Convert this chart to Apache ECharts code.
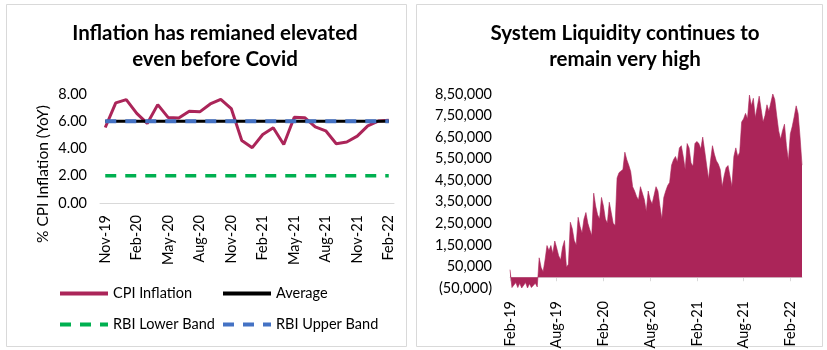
<!DOCTYPE html>
<html>
<head>
<meta charset="utf-8">
<script src="https://cdn.jsdelivr.net/npm/echarts@6/dist/echarts.min.js"></script>
<style>
  html, body { margin: 0; padding: 0; background: #fff; }
  #main { width: 827px; height: 350px; }
</style>
</head>
<body>
<div id="main"></div>
<script>
// left chart: CPI inflation, monthly
var cpiMonths = ['Nov-19', 'Dec-19', 'Jan-20', 'Feb-20', 'Mar-20', 'Apr-20', 'May-20', 'Jun-20', 'Jul-20',
  'Aug-20', 'Sep-20', 'Oct-20', 'Nov-20', 'Dec-20', 'Jan-21', 'Feb-21', 'Mar-21', 'Apr-21', 'May-21',
  'Jun-21', 'Jul-21', 'Aug-21', 'Sep-21', 'Oct-21', 'Nov-21', 'Dec-21', 'Jan-22', 'Feb-22']
var cpiInflation = [5.54, 7.35, 7.59, 6.58, 5.84, 7.22, 6.27, 6.23, 6.73, 6.69, 7.27, 7.61, 6.93, 4.59,
  4.06, 5.03, 5.52, 4.29, 6.30, 6.26, 5.59, 5.30, 4.35, 4.48, 4.91, 5.66, 6.01, 6.07]
var cpiAverage = 6
var rbiLowerBand = 2
var rbiUpperBand = 6
var cpiTicks = [0, 2, 4, 6, 8]

// right chart: system liquidity, roughly weekly readings grouped by month
var liqMonths = ['Feb-19', 'Mar-19', 'Apr-19', 'May-19', 'Jun-19', 'Jul-19', 'Aug-19', 'Sep-19', 'Oct-19',
  'Nov-19', 'Dec-19', 'Jan-20', 'Feb-20', 'Mar-20', 'Apr-20', 'May-20', 'Jun-20', 'Jul-20', 'Aug-20',
  'Sep-20', 'Oct-20', 'Nov-20', 'Dec-20', 'Jan-21', 'Feb-21', 'Mar-21', 'Apr-21', 'May-21', 'Jun-21',
  'Jul-21', 'Aug-21', 'Sep-21', 'Oct-21', 'Nov-21', 'Dec-21', 'Jan-22', 'Feb-22', 'Mar-22']
var liquidity = [
  [35000, -48000, -50000, -25000],
  [-48000, -28000, -50000, -45000],
  [-25000, -50000, -30000, -48000],
  [-50000, -28000, -45000, 90000],
  [45000, 25000, 80000, 147000],
  [124000, 147000, 110000, 168000],
  [135000, 100000, 80000, 139000],
  [170000, 46000, 60000, 255000],
  [225000, 170000, 150000, 278000],
  [235000, 205000, 270000, 300000],
  [250000, 220000, 193000, 390000],
  [330000, 290000, 270000, 370000],
  [330000, 270000, 250000, 348000],
  [300000, 250000, 240000, 460000],
  [485000, 490000, 500000, 580000],
  [545000, 520000, 490000, 420000],
  [400000, 375000, 358000, 420000],
  [420000, 360000, 305000, 400000],
  [360000, 340000, 380000, 420000],
  [400000, 330000, 270000, 370000],
  [400000, 425000, 440000, 520000],
  [545000, 560000, 535000, 600000],
  [610000, 560000, 500000, 620000],
  [600000, 530000, 515000, 620000],
  [630000, 620000, 595000, 650000],
  [587000, 520000, 455000, 540000],
  [610000, 570000, 540000, 525000],
  [500000, 420000, 470000, 508000],
  [518000, 470000, 420000, 560000],
  [600000, 560000, 580000, 720000],
  [735000, 760000, 735000, 845000],
  [795000, 830000, 740000, 790000],
  [840000, 780000, 720000, 750000],
  [800000, 770000, 810000, 850000],
  [825000, 750000, 680000, 640000],
  [680000, 710000, 610000, 540000],
  [665000, 700000, 745000, 795000],
  [760000, 650000, 520000]
]
var liqMin = -50000
var liqMax = 850000
var liqStep = 100000
var liqLabelMonths = ['Feb', 'Aug']

var font = 'Lato, "Open Sans", sans-serif'
var wine = '#ab2559'

// flatten the monthly groups into one category list
var liqCats = []
var liqValues = []
liquidity.forEach(function (weeks, m) {
  weeks.forEach(function (v, w) {
    liqCats.push(liqMonths[m] + ' ' + (w + 1))
    liqValues.push(v)
  })
})

function showLiqLabel(index, value) {
  var parts = value.split(' ')
  return parts[1] === '1' && liqLabelMonths.indexOf(parts[0].slice(0, 3)) >= 0
}

// indian digit grouping, negatives in brackets
function lakhFormat(v) {
  var s = String(Math.abs(Math.round(v)))
  var out = s
  if (s.length > 3) {
    var head = s.slice(0, s.length - 3)
    var tail = s.slice(s.length - 3)
    head = head.replace(/\B(?=(\d{2})+(?!\d))/g, ',')
    out = head + ',' + tail
  }
  return v < 0 ? '(' + out + ')' : out
}

var chart = echarts.init(document.getElementById('main'), null, { renderer: 'canvas' })

var legendBase = {
  orient: 'vertical',
  top: 281,
  itemWidth: 48,
  itemHeight: 14,
  itemGap: 16,
  selectedMode: false,
  itemStyle: { opacity: 0 },
  lineStyle: { width: 4 },
  textStyle: { fontFamily: font, fontSize: 14.5, color: '#000' }
}

var option = {
  backgroundColor: '#ffffff',
  animation: false,
  textStyle: { fontFamily: font },
  title: [{
    text: 'Inflation has remianed elevated\neven before Covid',
    left: 210,
    top: 15,
    textAlign: 'center',
    textStyle: { fontFamily: font, fontSize: 20.5, fontWeight: 'bold', color: '#000', lineHeight: 26 }
  }, {
    text: 'System Liquidity continues to\nremain very high',
    left: 620,
    top: 15,
    textAlign: 'center',
    textStyle: { fontFamily: font, fontSize: 20.5, fontWeight: 'bold', color: '#000', lineHeight: 26 }
  }],
  graphic: [{
    type: 'rect',
    shape: { x: 6.5, y: 4.5, width: 400, height: 342 },
    style: { fill: 'none', stroke: '#d9d9d9', lineWidth: 1 },
    silent: true
  }, {
    type: 'rect',
    shape: { x: 416.5, y: 4.5, width: 406, height: 342 },
    style: { fill: 'none', stroke: '#d9d9d9', lineWidth: 1 },
    silent: true
  }, {
    type: 'text',
    x: 43,
    y: 174,
    rotation: Math.PI / 2,
    style: {
      text: '% CPI Inflation (YoY)',
      fontFamily: font,
      fontSize: 15.5,
      fill: '#000',
      align: 'center',
      verticalAlign: 'middle'
    },
    silent: true
  }],
  legend: [
    Object.assign({ data: ['CPI Inflation', 'RBI Lower Band'], left: 53 }, legendBase),
    Object.assign({ data: ['Average', 'RBI Upper Band'], left: 216 }, legendBase)
  ],
  grid: [{
    left: 100, top: 94, width: 294, height: 109,
    outerBoundsMode: 'none'
  }, {
    left: 510, top: 94, width: 292, height: 194,
    outerBoundsMode: 'none'
  }],
  xAxis: [{
    type: 'category',
    gridIndex: 0,
    data: cpiMonths,
    boundaryGap: true,
    axisLine: { show: true, lineStyle: { color: '#d9d9d9', width: 1 } },
    axisTick: { show: false },
    axisLabel: {
      interval: 2, rotate: 90, margin: 12, fontSize: 14.5, color: '#000',
      fontFamily: font, hideOverlap: false
    },
    splitLine: { show: false }
  }, {
    type: 'category',
    gridIndex: 1,
    data: liqCats,
    boundaryGap: false,
    axisLine: { show: true, onZero: true, lineStyle: { color: '#d9d9d9', width: 1 } },
    axisTick: { show: true, interval: showLiqLabel, length: 4, lineStyle: { color: '#d9d9d9' } },
    axisLabel: {
      interval: showLiqLabel, rotate: 90, margin: 13, fontSize: 14.5, color: '#000',
      fontFamily: font, hideOverlap: false,
      formatter: function (v) { return v.split(' ')[0] }
    },
    splitLine: { show: false }
  }],
  yAxis: [{
    type: 'value',
    gridIndex: 0,
    min: cpiTicks[0],
    max: cpiTicks[cpiTicks.length - 1],
    interval: cpiTicks[1] - cpiTicks[0],
    axisLine: { show: false },
    axisTick: { show: false },
    splitLine: { show: false },
    axisLabel: {
      margin: 13, fontSize: 14.5, color: '#000', fontFamily: font,
      formatter: function (v) { return v.toFixed(2) }
    }
  }, {
    type: 'value',
    gridIndex: 1,
    min: liqMin,
    max: liqMax,
    interval: liqStep,
    axisLine: { show: false },
    axisTick: { show: false },
    splitLine: { show: false },
    axisLabel: {
      margin: 18, fontSize: 14.5, color: '#000', fontFamily: font,
      formatter: lakhFormat
    }
  }],
  series: [{
    name: 'CPI Inflation',
    type: 'line',
    xAxisIndex: 0,
    yAxisIndex: 0,
    data: cpiInflation,
    symbol: 'none',
    color: wine,
    lineStyle: { color: wine, width: 3 },
    z: 2
  }, {
    name: 'Average',
    type: 'line',
    xAxisIndex: 0,
    yAxisIndex: 0,
    data: cpiMonths.map(function () { return cpiAverage }),
    symbol: 'none',
    color: '#000',
    lineStyle: { color: '#000', width: 3 },
    z: 3
  }, {
    name: 'RBI Lower Band',
    type: 'line',
    xAxisIndex: 0,
    yAxisIndex: 0,
    data: cpiMonths.map(function () { return rbiLowerBand }),
    symbol: 'none',
    color: '#00b050',
    lineStyle: { color: '#00b050', width: 3.5, type: [11, 9] },
    z: 3
  }, {
    name: 'RBI Upper Band',
    type: 'line',
    xAxisIndex: 0,
    yAxisIndex: 0,
    data: cpiMonths.map(function () { return rbiUpperBand }),
    symbol: 'none',
    color: '#4472c4',
    lineStyle: { color: '#4472c4', width: 4, type: [11, 9] },
    z: 4
  }, {
    name: 'Liquidity',
    type: 'line',
    xAxisIndex: 1,
    yAxisIndex: 1,
    data: liqValues,
    symbol: 'none',
    color: wine,
    lineStyle: { color: wine, width: 0.6 },
    areaStyle: { color: wine, opacity: 1 },
    z: 2
  }]
}

chart.setOption(option)
</script>
</body>
</html>
